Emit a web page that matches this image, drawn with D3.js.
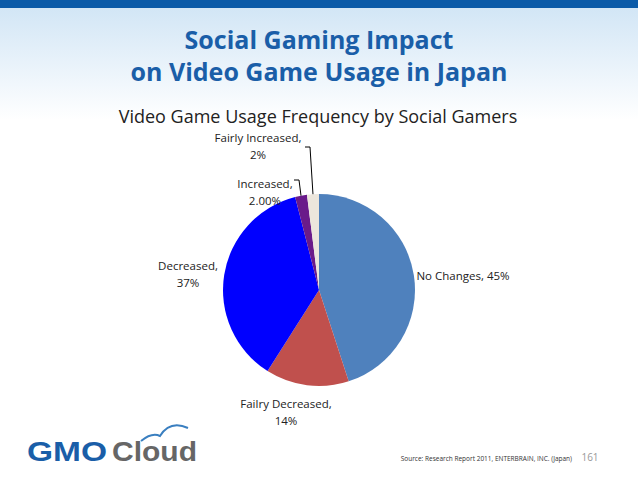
<!DOCTYPE html>
<html><head><meta charset="utf-8">
<script src="https://cdn.jsdelivr.net/npm/d3@7"></script>
<style>body{margin:0;background:#fff}svg{display:block;font-family:"Open Sans",sans-serif}</style>
</head><body><svg id="c" width="638" height="479"></svg>
<script>
const categories = ['No Changes', 'Fairly Decreased', 'Decreased', 'Increased', 'Fairly Increased']
const values = [45, 14, 37, 2, 2]
const labels = ['No Changes, 45%', 'Failry Decreased,|14%', 'Decreased,|37%', 'Increased,|2.00%', 'Fairly Increased,|2%']
const colors = ['#4f81bd', '#c0504d', '#0000ff', '#6a1b8a', '#ece6dc']

const svg = d3.select('#c')
const defs = svg.append('defs')
const lg = defs.append('linearGradient').attr('id', 'hd').attr('x1', 0).attr('y1', 0).attr('x2', 0).attr('y2', 1)
lg.append('stop').attr('offset', 0).attr('stop-color', '#cfe4f5')
lg.append('stop').attr('offset', 1).attr('stop-color', '#ffffff')
svg.append('rect').attr('width', 638).attr('height', 120).attr('fill', 'url(#hd)')
svg.append('rect').attr('width', 638).attr('height', 8).attr('fill', '#0a5aa8')

svg.append('text').attr('x', 319).attr('y', 49).attr('text-anchor', 'middle')
    .attr('font-size', 25).attr('font-weight', 'bold').attr('fill', '#1a5ea8').text('Social Gaming Impact')
svg.append('text').attr('x', 319).attr('y', 81).attr('text-anchor', 'middle')
    .attr('font-size', 25).attr('font-weight', 'bold').attr('fill', '#1a5ea8').text('on Video Game Usage in Japan')
svg.append('text').attr('x', 318).attr('y', 123).attr('text-anchor', 'middle')
    .attr('font-size', 18).attr('fill', '#222').text('Video Game Usage Frequency by Social Gamers')

const cx = 319, cy = 290, r = 96
const pie = d3.pie().sort(null)(values)
const arc = d3.arc().innerRadius(0).outerRadius(r)
const g = svg.append('g').attr('transform', `translate(${cx},${cy})`)
g.selectAll('path').data(pie).enter().append('path')
    .attr('d', arc).attr('fill', (d, i) => colors[i])

// label positions (absolute)
const lpos = [[463, 280, 'middle'], [286, 408, 'middle'], [188, 270, 'middle'], [265, 188, 'middle'], [258, 142, 'middle']]
labels.forEach((t, i) => {
    const parts = t.split('|')
    const tx = svg.append('text').attr('font-size', 11.5).attr('fill', '#222').attr('text-anchor', lpos[i][2])
    parts.forEach((p, j) => tx.append('tspan').attr('x', lpos[i][0]).attr('y', lpos[i][1] + j * 17).text(p))
})
// leader lines
const la = d3.arc().innerRadius(r).outerRadius(r)
const c3 = la.centroid(pie[3]), c4 = la.centroid(pie[4])
svg.append('path').attr('fill', 'none').attr('stroke', '#000')
    .attr('d', `M294,180 L299,180 L${cx + c3[0]},${cy + c3[1]}`)
svg.append('path').attr('fill', 'none').attr('stroke', '#000')
    .attr('d', `M305,147 L310,147 L${cx + c4[0]},${cy + c4[1]}`)

// footer
svg.append('text').attr('x', 27).attr('y', 461).attr('font-size', 27).attr('font-weight', 'bold')
    .attr('font-family', 'Liberation Sans').attr('fill', '#1a5ea8')
    .attr('textLength', 80).attr('lengthAdjust', 'spacingAndGlyphs').text('GMO')
svg.append('text').attr('x', 112).attr('y', 461).attr('font-size', 27).attr('font-weight', 'bold')
    .attr('font-family', 'Liberation Sans').attr('fill', '#666')
    .attr('textLength', 85).attr('lengthAdjust', 'spacingAndGlyphs').text('Cloud')
svg.append('path').attr('d', 'M141,441 Q152,432 160,436 Q170,420 188,428').attr('fill', 'none')
    .attr('stroke', '#3a7fc0').attr('stroke-width', 2)
svg.append('text').attr('x', 572).attr('y', 461).attr('text-anchor', 'end').attr('font-size', 6.5)
    .attr('fill', '#333').text('Source: Research Report 2011, ENTERBRAIN, INC. (Japan)')
svg.append('text').attr('x', 590).attr('y', 461).attr('text-anchor', 'middle').attr('font-size', 10)
    .attr('fill', '#999').text('161')
</script></body></html>
